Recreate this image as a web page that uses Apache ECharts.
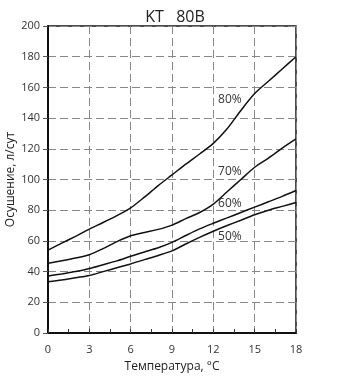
<!DOCTYPE html>
<html><head><meta charset="utf-8">
<script src="https://cdn.jsdelivr.net/npm/echarts@6/dist/echarts.min.js"></script>
<style>html,body{margin:0;padding:0;background:#fff}#c{width:357px;height:380px}</style>
</head><body><div id="c"></div>
<script>
var temps = [0,1,2,3,4,5,6,7,8,9,10,11,12,13,14,15,16,17,18];
var rh80 = [54,58.5,63,67.7,72,76.5,81.5,88.5,96,103,110,116.6,123.5,133,145,156,164,172,180];
var rh70 = [45.4,47,48.8,51,55,59.5,63.3,65.5,67.5,70.3,74.5,78.5,84,92,100,108,114,120.5,126.5];
var rh60 = [37.1,38.5,40,42,44.5,47,50,52.8,55.5,59,63.5,67.8,71.5,75,78.5,82,85.5,89,92.8];
var rh50 = [33.4,34.5,36,37.5,40,42.5,45,47.8,50.5,53.5,58,62.3,66.3,70,73.5,77,80,82.5,85];
var seriesNames = ['80%','70%','60%','50%'];
var labelPos = [[13.2,151.8],[13.2,105.3],[13.2,84.2],[13.2,63]];
var xTicks = [0,3,6,9,12,15,18];
var yTicks = [0,20,40,60,80,100,120,140,160,180,200];

var font = '"Open Sans", "DejaVu Sans", sans-serif';
var chart = echarts.init(document.getElementById('c'));
function mk(name, vals){
  return {name:name, type:'line', data: temps.map(function(t,i){return [t, vals[i]];}),
    smooth:0.3, symbol:'none', lineStyle:{color:'#111', width:1.5}};
}
var option = {
  animation:false,
  title:{text:'KT   80B', left:170, top:4, textAlign:'center',
    textStyle:{fontFamily:font, fontSize:16, fontWeight:'normal', color:'#222'}},
  grid:{left:48, right:61, top:26, bottom:47, containLabel:false, outerBoundsMode:'none',
    show:true, borderColor:'#111', borderWidth:1.5, backgroundColor:'transparent'},
  xAxis:{type:'value', min:xTicks[0], max:xTicks[xTicks.length-1], interval:3,
    name:'Температура, °C', nameLocation:'middle', nameGap:28, nameMoveOverlap:false,
    nameTextStyle:{fontFamily:font, fontSize:12, color:'#222'},
    axisLine:{lineStyle:{color:'#111', width:2}},
    axisTick:{show:true, inside:true, length:4, lineStyle:{color:'#333'}},
    minorTick:{show:true, splitNumber:2, length:4, lineStyle:{color:'#333'}},
    axisLabel:{fontFamily:font, fontSize:11, color:'#333', margin:11},
    splitLine:{show:true, lineStyle:{color:'#888', type:[8,4], width:1}}},
  yAxis:{type:'value', min:yTicks[0], max:yTicks[yTicks.length-1], interval:20,
    name:'Осушение, л/сут', nameLocation:'middle', nameGap:31, nameMoveOverlap:false,
    nameTextStyle:{fontFamily:font, fontSize:12, color:'#222'},
    axisLine:{show:true, lineStyle:{color:'#111', width:2}},
    axisTick:{show:true, length:5, lineStyle:{color:'#555'}},
    axisLabel:{fontFamily:font, fontSize:11, color:'#333', margin:8},
    splitLine:{show:true, lineStyle:{color:'#888', type:[8,4], width:1}}},
  series:[mk(seriesNames[0],rh80), mk(seriesNames[1],rh70), mk(seriesNames[2],rh60), mk(seriesNames[3],rh50)]
};
chart.setOption(option);
var g = seriesNames.map(function(n,i){
  var p = chart.convertToPixel({gridIndex:0}, labelPos[i]);
  return {type:'text', x:p[0], y:p[1], style:{text:n, fill:'#333', font:'12px ' + font, align:'center', verticalAlign:'middle'}};
});
chart.setOption({graphic:g});
</script></body></html>
